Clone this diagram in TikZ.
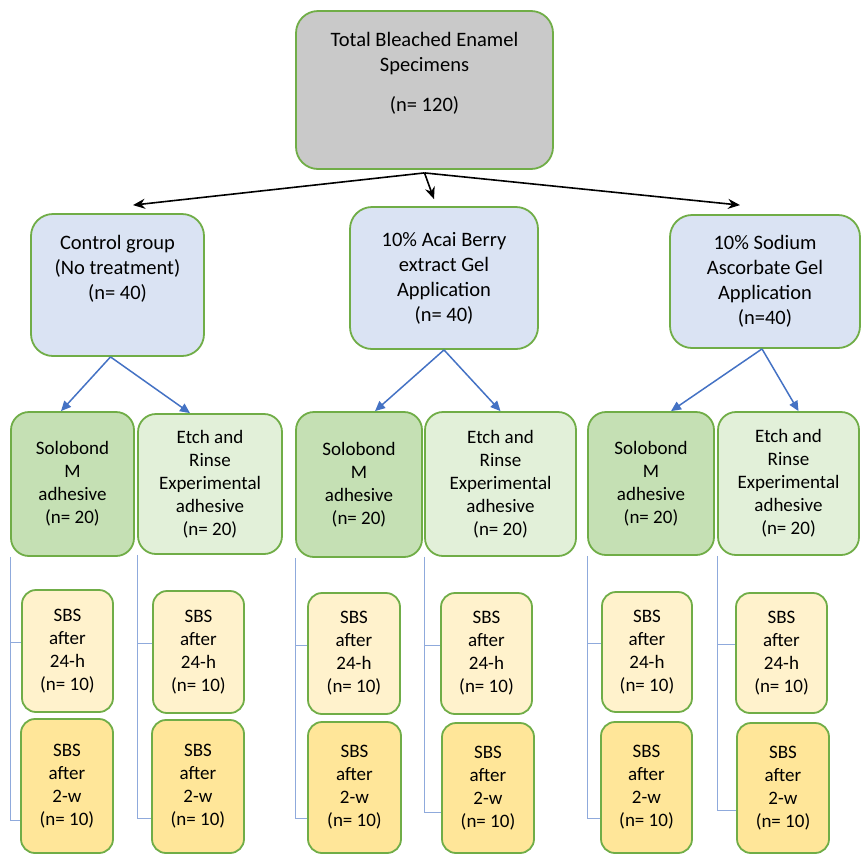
\documentclass[tikz,border=0pt]{standalone}
\usepackage{fontspec}
\setmainfont{Carlito}
\usetikzlibrary{arrows.meta}

\definecolor{boxgreen}{HTML}{70AD47}
\definecolor{topgray}{HTML}{C9C9C9}
\definecolor{groupblue}{HTML}{DAE3F3}
\definecolor{solofill}{HTML}{C5E0B4}
\definecolor{etchfill}{HTML}{E2F0D9}
\definecolor{dayfill}{HTML}{FFF2CC}
\definecolor{weekfill}{HTML}{FFE699}
\definecolor{arrowblue}{HTML}{4472C4}
\definecolor{linkblue}{HTML}{8FAADC}

\begin{document}
\begin{tikzpicture}[x=1pt, y=-1pt,
        box/.style={draw=boxgreen, line width=1.8pt, align=center, inner sep=0pt},
        bigbox/.style={box, rounded corners=22pt, font=\fontsize{20.5}{25}\selectfont},
        adhbox/.style={box, rounded corners=18pt, font=\fontsize{19}{23}\selectfont},
        sbsbox/.style={box, rounded corners=14pt, font=\fontsize{19}{23}\selectfont},
        mainarrow/.style={-{Stealth[length=12pt, width=10pt]}, line width=1.6pt, black},
        subarrow/.style={-{Triangle[length=10pt, width=9pt]}, line width=1.5pt, arrowblue},
        link/.style={linkblue, line width=1pt}
    ]
        \useasboundingbox (0,0) rectangle (861,855);

        % total and groups
        \node[bigbox, fill=topgray, minimum width=257pt, minimum height=158pt] (total) at (424.5,90)
            {Total Bleached Enamel\\Specimens\\[15pt](n= 120)\\[12pt]\mbox{}};
        \node[bigbox, fill=groupblue, minimum width=173pt, minimum height=142pt] (control) at (117.5,285)
            {Control group\\(No treatment)\\(n= 40)\\[11pt]\mbox{}};
        \node[bigbox, fill=groupblue, minimum width=188pt, minimum height=142pt] (acai) at (444,278)
            {10\% Acai Berry\\extract Gel\\Application\\(n= 40)};
        \node[bigbox, fill=groupblue, minimum width=190pt, minimum height=133pt] (sodium) at (765,281.5)
            {10\% Sodium\\Ascorbate Gel\\Application\\(n=40)};

        % adhesives
        \node[adhbox, fill=solofill, minimum width=123pt, minimum height=144pt] (solo1) at (72.5,484)
            {Solobond\\M\\adhesive\\(n= 20)};
        \node[adhbox, fill=etchfill, minimum width=144pt, minimum height=140pt] (etch1) at (210,484)
            {Etch and\\Rinse\\Experimental\\adhesive\\(n= 20)};
        \node[adhbox, fill=solofill, minimum width=126pt, minimum height=145pt] (solo2) at (359,484.5)
            {Solobond\\M\\adhesive\\(n= 20)};
        \node[adhbox, fill=etchfill, minimum width=151pt, minimum height=144pt] (etch2) at (500.5,484)
            {Etch and\\Rinse\\Experimental\\adhesive\\(n= 20)};
        \node[adhbox, fill=solofill, minimum width=126pt, minimum height=143pt] (solo3) at (651,483.5)
            {Solobond\\M\\adhesive\\(n= 20)};
        \node[adhbox, fill=etchfill, minimum width=141pt, minimum height=143pt] (etch3) at (788.5,483.5)
            {Etch and\\Rinse\\Experimental\\adhesive\\(n= 20)};

        % SBS after 24-h
        \node[sbsbox, fill=dayfill, minimum width=91pt, minimum height=122pt] (solo1-day) at (67.5,651)
            {SBS\\after\\24-h\\(n= 10)};
        \node[sbsbox, fill=dayfill, minimum width=91pt, minimum height=122pt] (etch1-day) at (198.5,652)
            {SBS\\after\\24-h\\(n= 10)};
        \node[sbsbox, fill=dayfill, minimum width=92pt, minimum height=121pt] (solo2-day) at (354,653.5)
            {SBS\\after\\24-h\\(n= 10)};
        \node[sbsbox, fill=dayfill, minimum width=91pt, minimum height=121pt] (etch2-day) at (486.5,653.5)
            {SBS\\after\\24-h\\(n= 10)};
        \node[sbsbox, fill=dayfill, minimum width=90pt, minimum height=120pt] (solo3-day) at (647,652)
            {SBS\\after\\24-h\\(n= 10)};
        \node[sbsbox, fill=dayfill, minimum width=91pt, minimum height=120pt] (etch3-day) at (781.5,653)
            {SBS\\after\\24-h\\(n= 10)};

        % SBS after 2-w
        \node[sbsbox, fill=weekfill, minimum width=92pt, minimum height=134pt] (solo1-week) at (67,786)
            {SBS\\after\\2-w\\(n= 10)};
        \node[sbsbox, fill=weekfill, minimum width=92pt, minimum height=133pt] (etch1-week) at (198,786.5)
            {SBS\\after\\2-w\\(n= 10)};
        \node[sbsbox, fill=weekfill, minimum width=93pt, minimum height=131pt] (solo2-week) at (354.5,787.5)
            {SBS\\after\\2-w\\(n= 10)};
        \node[sbsbox, fill=weekfill, minimum width=92pt, minimum height=130pt] (etch2-week) at (488,788)
            {SBS\\after\\2-w\\(n= 10)};
        \node[sbsbox, fill=weekfill, minimum width=91pt, minimum height=131pt] (solo3-week) at (646.5,787.5)
            {SBS\\after\\2-w\\(n= 10)};
        \node[sbsbox, fill=weekfill, minimum width=92pt, minimum height=130pt] (etch3-week) at (783,788)
            {SBS\\after\\2-w\\(n= 10)};

        \draw[mainarrow] ([yshift=-3pt]total.south) -- ([xshift=15.5pt, yshift=8pt]control.north);
        \draw[mainarrow] ([yshift=-3pt]total.south) -- ([xshift=-10pt, yshift=7pt]acai.north);
        \draw[mainarrow] ([yshift=-3pt]total.south) -- ([xshift=-25pt, yshift=9pt]sodium.north);

        \draw[subarrow] ([xshift=-7pt]control.south) -- ([xshift=-11.5pt]solo1.north);
        \draw[subarrow] ([xshift=-7pt]control.south) -- ([xshift=-20pt]etch1.north);
        \draw[subarrow] (acai.south) -- ([xshift=16pt]solo2.north);
        \draw[subarrow] (acai.south) -- (etch2.north);
        \draw[subarrow] ([xshift=-3pt]sodium.south) -- ([xshift=20pt]solo3.north);
        \draw[subarrow] ([xshift=-3pt]sodium.south) -- ([xshift=10pt]etch3.north);

        \foreach \adh/\wk in {solo1/216, etch1/214, solo2/213, etch2/208, solo3/214, etch3/206}
            \draw[link] (\adh.south west) |- (\adh-day.170)
                        (\adh.south west) |- (\adh-week.\wk);
    \end{tikzpicture}
\end{document}
